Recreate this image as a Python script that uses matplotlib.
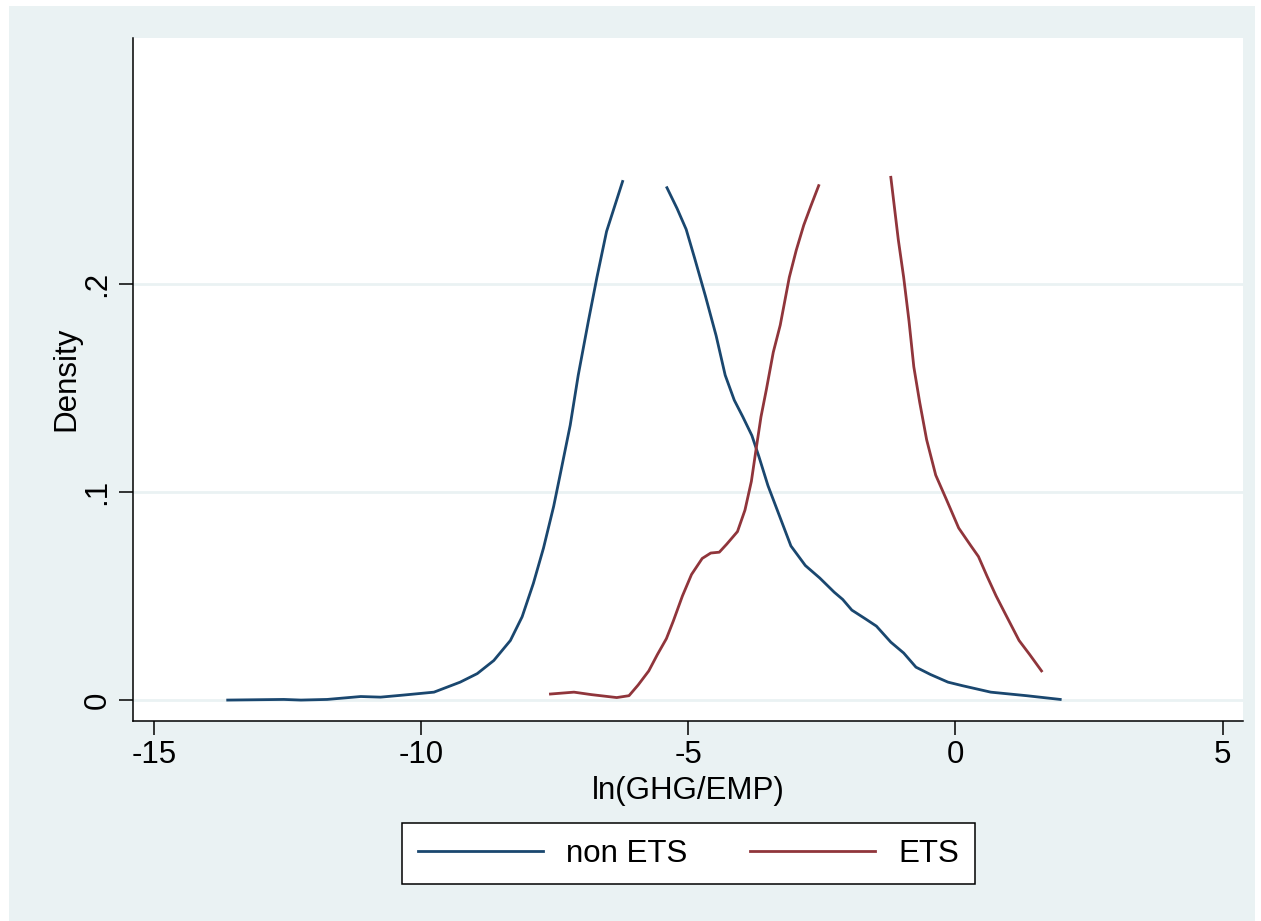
import numpy as np
import matplotlib
matplotlib.use("Agg")
from matplotlib import pyplot as plt
from matplotlib.patches import Rectangle

plt.rcParams['font.family'] = ['Liberation Sans', 'DejaVu Sans']
plt.rcParams['axes.unicode_minus'] = False

# densities (each curve is cut at about .25)
non_ets_x1 = [-13.62, -12.57, -12.25, -11.76, -11.13, -10.76, -10.33, -9.76, -9.27, -8.95,
              -8.64, -8.33, -8.11, -7.90, -7.71, -7.52, -7.40, -7.21, -7.06, -6.87,
              -6.71, -6.53, -6.23]
non_ets_y1 = [0.0, 0.0003, 0.0, 0.0003, 0.0017, 0.0014, 0.0024, 0.0038, 0.0086, 0.0127,
              0.019, 0.0286, 0.040, 0.056, 0.073, 0.093, 0.108, 0.132, 0.156, 0.182,
              0.203, 0.225, 0.249]
non_ets_x2 = [-5.40, -5.21, -5.04, -4.88, -4.68, -4.48, -4.31, -4.14, -3.98, -3.81,
              -3.68, -3.51, -3.31, -3.08, -2.81, -2.54, -2.27, -2.11, -1.94, -1.68,
              -1.48, -1.21, -0.97, -0.74, -0.47, -0.14, 0.13, 0.66, 1.33, 1.96]
non_ets_y2 = [0.246, 0.236, 0.226, 0.212, 0.194, 0.175, 0.156, 0.144, 0.136, 0.127,
              0.117, 0.103, 0.0895, 0.074, 0.0646, 0.0586, 0.0518, 0.0483, 0.0432, 0.0389,
              0.0355, 0.0278, 0.0226, 0.0158, 0.0123, 0.0086, 0.0069, 0.0038, 0.0021, 0.0003]
ets_x1 = [-7.58, -7.14, -6.81, -6.34, -6.11, -5.94, -5.74, -5.58, -5.41, -5.28,
          -5.11, -4.94, -4.74, -4.58, -4.42, -4.28, -4.08, -3.94, -3.82, -3.74,
          -3.64, -3.54, -3.41, -3.28, -3.11, -2.98, -2.84, -2.71, -2.56]
ets_y1 = [0.0029, 0.0038, 0.0026, 0.0012, 0.0021, 0.0072, 0.014, 0.0218, 0.0295, 0.038,
          0.050, 0.0603, 0.068, 0.0706, 0.071, 0.0749, 0.0809, 0.0912, 0.105, 0.119,
          0.136, 0.149, 0.167, 0.180, 0.203, 0.216, 0.228, 0.237, 0.247]
ets_x2 = [-1.21, -1.07, -0.97, -0.87, -0.78, -0.67, -0.54, -0.37, -0.17, 0.06,
          0.29, 0.43, 0.59, 0.76, 0.93, 1.19, 1.39, 1.61]
ets_y2 = [0.251, 0.221, 0.203, 0.182, 0.160, 0.143, 0.125, 0.108, 0.0963, 0.0826,
          0.074, 0.0689, 0.0595, 0.050, 0.0415, 0.0286, 0.0218, 0.014]

xticks = [-15, -10, -5, 0, 5]
yticks = [0, 0.1, 0.2]
ylabels = ['0', '.1', '.2']

blue = '#1a476f'
red = '#90353b'
bg = '#eaf2f3'
fs = 22.5

fig = plt.figure(figsize=(12.61, 9.21), dpi=100)
fig.patch.set_facecolor('white')
fig.patches.append(Rectangle((9/1261, 0), 1246/1261, 1 - 6/921, transform=fig.transFigure,
                             facecolor=bg, edgecolor='none', zorder=-10))

ax = fig.add_axes([0.1057, 0.2175, 0.88, 0.7415])
ax.set_facecolor('white')
ax.plot(non_ets_x1, non_ets_y1, color=blue, lw=2.0, label='non ETS')
ax.plot(non_ets_x2, non_ets_y2, color=blue, lw=2.0)
ax.plot(ets_x1, ets_y1, color=red, lw=2.0, label='ETS')
ax.plot(ets_x2, ets_y2, color=red, lw=2.0)

ax.set_xlim(-15.387, 5.38)
ax.set_ylim(-0.0099, 0.318)
ax.set_xticks(xticks)
ax.set_yticks(yticks)
ax.set_yticklabels(ylabels, rotation=90, va='center')
ax.tick_params(direction='out', length=10, width=1.1, labelsize=fs, pad=4)
ax.tick_params(axis='y', pad=5)
ax.grid(axis='y', color=bg, lw=2)
ax.set_axisbelow(True)
for s in ['top', 'right']:
    ax.spines[s].set_visible(False)
for s in ['left', 'bottom']:
    ax.spines[s].set_linewidth(1.1)

ax.set_xlabel('ln(GHG/EMP)', fontsize=fs, labelpad=4)
ax.set_ylabel('Density', fontsize=fs, labelpad=1)

leg = ax.legend(loc='center', bbox_to_anchor=(0.546, 0.073), bbox_transform=fig.transFigure,
                ncol=2, fontsize=fs, frameon=True, fancybox=False, framealpha=1,
                handlelength=4.0, handletextpad=0.75, columnspacing=2.0, borderpad=0.5)
leg.get_frame().set_edgecolor('black')
leg.get_frame().set_facecolor('white')
leg.get_frame().set_linewidth(1.1)

fig.savefig('out.png', dpi=100)
